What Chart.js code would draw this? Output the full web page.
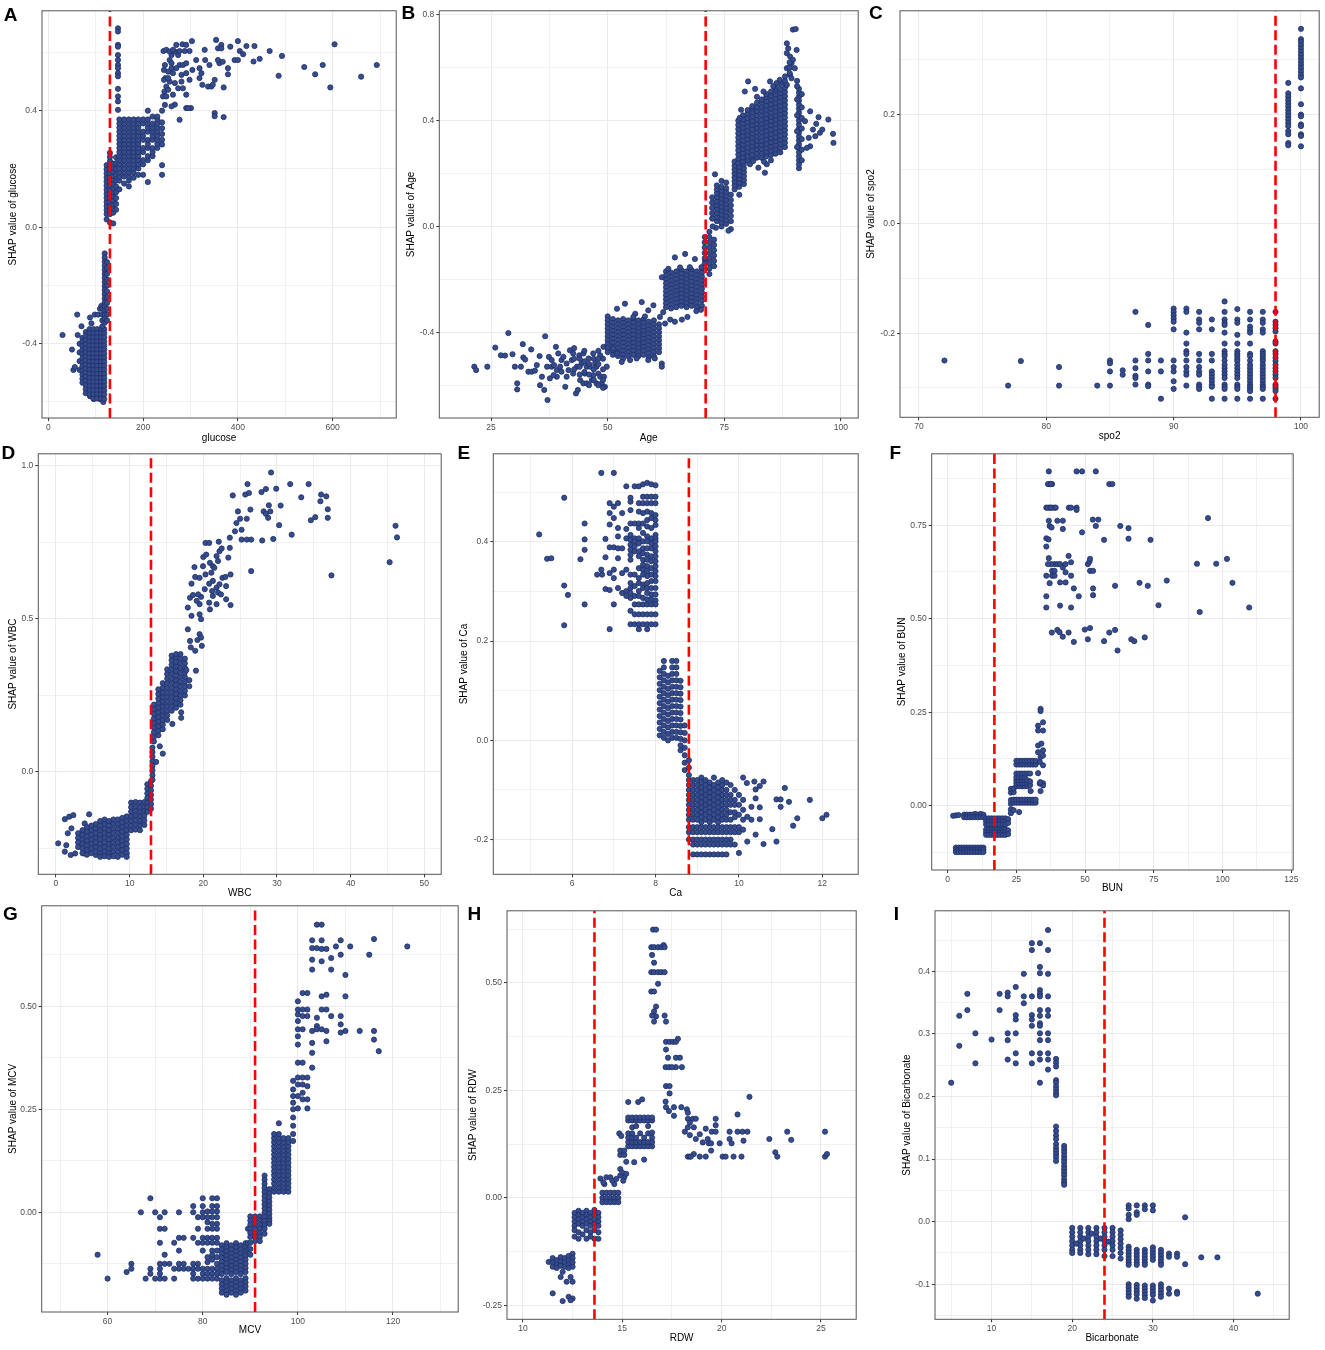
<!DOCTYPE html>
<html>
<head>
<meta charset="utf-8">
<script src="https://cdn.jsdelivr.net/npm/chart.js@4.4.1/dist/chart.umd.min.js"></script>
<style>
  body { margin: 0; background: #fff; width: 1325px; height: 1350px; position: relative; overflow: hidden; }
  .tag { position: absolute; font: bold 19px 'Liberation Sans', Arial, sans-serif; line-height: 19px; color: #000; }
</style>
</head>
<body>
<script>
// each row is [x, y, y, ...] : one feature value and the SHAP values read at it
const glucose = [
  [30,-0.37],[50,-0.42],[53,-0.49],[56,-0.48],[61,-0.3],[62,-0.37],[70,-0.34],[88,-0.31],[91,-0.33],[98,-0.3],[105,-0.3],[109,-0.28],[112,-0.27],[88,-0.58],[96,-0.59],[109,-0.59],[116,-0.6],
  [66,-0.4,-0.43,-0.46,-0.49],
  [72,-0.38,-0.394,-0.408,-0.422,-0.436,-0.45,-0.464,-0.478,-0.492,-0.506,-0.52,-0.534],
  [79,-0.36,-0.374,-0.388,-0.402,-0.416,-0.43,-0.444,-0.458,-0.472,-0.486,-0.5,-0.514,-0.528,-0.542,-0.556,-0.57],
  [87,-0.35,-0.364,-0.378,-0.392,-0.406,-0.42,-0.434,-0.448,-0.462,-0.476,-0.49,-0.504,-0.518,-0.532,-0.546,-0.56,-0.574],
  [95,-0.35,-0.364,-0.378,-0.392,-0.406,-0.42,-0.434,-0.448,-0.462,-0.476,-0.49,-0.504,-0.518,-0.532,-0.546,-0.56,-0.574,-0.588],
  [103,-0.35,-0.364,-0.378,-0.392,-0.406,-0.42,-0.434,-0.448,-0.462,-0.476,-0.49,-0.504,-0.518,-0.532,-0.546,-0.56,-0.574,-0.588],
  [111,-0.35,-0.364,-0.378,-0.392,-0.406,-0.42,-0.434,-0.448,-0.462,-0.476,-0.49,-0.504,-0.518,-0.532,-0.546,-0.56,-0.574,-0.588],
  [118,-0.35,-0.364,-0.378,-0.392,-0.406,-0.42,-0.434,-0.448,-0.462,-0.476,-0.49,-0.504,-0.518,-0.532,-0.546,-0.56,-0.574,-0.59],
  [114,-0.28,-0.3,-0.32,-0.34],
  [119,-0.09,-0.104,-0.118,-0.132,-0.146,-0.16,-0.174,-0.188,-0.202,-0.216,-0.23,-0.244,-0.258,-0.272,-0.286,-0.3,-0.314,-0.328],
  [124,-0.12,-0.14,-0.16,-0.18,-0.2,-0.22,-0.24,-0.26,-0.28,-0.3,-0.32],
  [123,0.027,0.045,0.059,0.073,0.087,0.101,0.115,0.129,0.143,0.157,0.171,0.185,0.199,0.213],
  [130,0.016,0.045,0.059,0.073,0.087,0.101,0.115,0.129,0.143,0.157,0.171,0.185,0.199,0.213,0.227,0.241,0.255],
  [137,0.013,0.05,0.064,0.078,0.092,0.106,0.12,0.134,0.148,0.162,0.176,0.19,0.204,0.218],
  [143,0.06,0.08,0.1,0.12,0.14,0.16,0.18,0.2,0.22,0.24],
  [147,0.683,0.672,0.626,0.62,0.591,0.574,0.557,0.546,0.529,0.518,0.475,0.449,0.432,0.403],
  [150,0.13,0.16,0.174,0.188,0.202,0.216,0.23,0.244,0.258,0.272,0.286,0.3,0.314,0.328,0.342,0.356,0.37],
  [160,0.15,0.174,0.188,0.202,0.216,0.23,0.244,0.258,0.272,0.286,0.3,0.314,0.328,0.342,0.356,0.37],
  [170,0.14,0.16,0.174,0.188,0.202,0.216,0.23,0.244,0.258,0.272,0.286,0.3,0.314,0.328,0.342,0.356,0.37],
  [180,0.17,0.188,0.202,0.216,0.23,0.244,0.258,0.272,0.286,0.3,0.314,0.328,0.342,0.356,0.37],
  [190,0.18,0.202,0.216,0.23,0.244,0.258,0.272,0.286,0.3,0.314,0.328,0.342,0.356,0.37],
  [200,0.18,0.216,0.23,0.258,0.272,0.3,0.314,0.328,0.356,0.37],
  [210,0.155,0.23,0.244,0.272,0.286,0.3,0.328,0.342,0.356,0.37,0.4],
  [220,0.244,0.258,0.272,0.3,0.314,0.328,0.342,0.356,0.38],
  [230,0.272,0.286,0.3,0.314,0.328,0.342,0.356,0.37,0.38],
  [240,0.18,0.213,0.284,0.3,0.32,0.34,0.36,0.4],
  [243,0.605],[246,0.557],[247,0.512],[245,0.466],[242,0.449],[246,0.42],[249,0.483],[253,0.534],[256,0.574],[260,0.563],[263,0.529],[256,0.5],[253,0.472],[249,0.449],[260,0.591],[267,0.603],[270,0.626],[274,0.591],[277,0.557],[281,0.523],[274,0.477],[263,0.455],[267,0.421],[291,0.455],[291,0.409],[277,0.369],[260,0.415],
  [244,0.54],[244,0.506],[249,0.609],[256,0.603],[263,0.609],[253,0.512],[260,0.546],[270,0.546],[267,0.495],[277,0.605],[288,0.605],
  [283,0.628],[291,0.626],[298,0.605],[303,0.639],[284,0.557],[291,0.563],[291,0.529],[281,0.5],[284,0.477],[298,0.506],[304,0.54],[312,0.574],[319,0.546],[323,0.529],[319,0.512],[325,0.489],[330,0.609],[340,0.557],[331,0.574],[337,0.483],[351,0.506],[358,0.614],[354,0.643],[361,0.563],[365,0.626],[368,0.568],[379,0.546],[379,0.525],[370,0.48],[384,0.62],[351,0.392],[351,0.381],[370,0.378],[365,0.614],[358,0.574],[344,0.483],[347,0.489],[301,0.409],[295,0.409],
  [393,0.574],[400,0.574],[400,0.639],[404,0.605],[411,0.594],[418,0.622],[435,0.622],[446,0.578],[433,0.569],[467,0.605],[493,0.588],[540,0.55],[486,0.52],[563,0.525],[579,0.557],[595,0.48],[604,0.628],[660,0.517],[693,0.557]
];

const age = [
  [21.4,-0.53],[21.8,-0.543],[24.2,-0.53],[25.9,-0.458],[27.1,-0.487],[28,-0.488],[28.7,-0.403],[29.6,-0.483],[30.1,-0.53],[30.6,-0.593,-0.616],[31.4,-0.53],[31.8,-0.445],[31.9,-0.495],[32.3,-0.503],[33,-0.549],[33.6,-0.465],[33.7,-0.549],[34.4,-0.545],[34.8,-0.524],[35.4,-0.49],[35.5,-0.6],[35.9,-0.568],[36.4,-0.618],[36.6,-0.415],[37,-0.53],[37.1,-0.656],[37.4,-0.493],[37.6,-0.574],[38,-0.505,-0.53],[38.5,-0.524],[38.9,-0.455],[39.1,-0.568,-0.543],[39.4,-0.48],[39.8,-0.53],[40.1,-0.549,-0.505],[40.5,-0.493],[40.9,-0.606],[41.2,-0.518,-0.568],[41.6,-0.543],[41.9,-0.468],[42.3,-0.505],[42.6,-0.556,-0.48],[43.2,-0.631],[43.6,-0.618],[43.9,-0.487],[44.1,-0.581],[44.4,-0.518],[44.8,-0.48,-0.593],[45.1,-0.556],[45.5,-0.593,-0.53],[45.9,-0.499],[46.2,-0.53],[46.6,-0.581],[46.9,-0.48,-0.562],[47.3,-0.518],[47.6,-0.593,-0.53],[48,-0.556],[48.4,-0.487,-0.568],[48.7,-0.593],[49.1,-0.455],[49.4,-0.606],[49.8,-0.53],[49.2,-0.568],[43.4,-0.53],[38.4,-0.562],
  [42.8,-0.46,-0.5,-0.54],[44,-0.5,-0.53,-0.56],[45,-0.47,-0.51,-0.55],[46,-0.52,-0.56,-0.6],[47,-0.5,-0.54,-0.58],[48,-0.47,-0.5,-0.52,-0.6],[49,-0.5,-0.54,-0.58,-0.61],
  [50,-0.34,-0.355,-0.37,-0.385,-0.4,-0.415,-0.43,-0.445,-0.46,-0.475],
  [51.1,-0.35,-0.365,-0.38,-0.395,-0.41,-0.425,-0.44,-0.455,-0.47,-0.485],
  [52.2,-0.355,-0.37,-0.385,-0.4,-0.415,-0.43,-0.445,-0.46,-0.475,-0.49],
  [53.3,-0.35,-0.365,-0.38,-0.395,-0.41,-0.425,-0.44,-0.455,-0.47,-0.485,-0.5],
  [54.4,-0.355,-0.37,-0.385,-0.4,-0.415,-0.43,-0.445,-0.46,-0.475,-0.49],
  [55.5,-0.35,-0.365,-0.38,-0.395,-0.41,-0.425,-0.44,-0.455,-0.47,-0.485],
  [56.6,-0.355,-0.37,-0.385,-0.4,-0.415,-0.43,-0.445,-0.46,-0.475,-0.49],
  [57.7,-0.35,-0.365,-0.38,-0.395,-0.41,-0.425,-0.44,-0.455,-0.47,-0.485],
  [58.8,-0.36,-0.375,-0.39,-0.405,-0.42,-0.435,-0.45,-0.465,-0.48,-0.495],
  [59.9,-0.355,-0.37,-0.385,-0.4,-0.415,-0.43,-0.445,-0.46,-0.475,-0.49],
  [61,-0.37,-0.385,-0.4,-0.415,-0.43,-0.445,-0.46,-0.475],
  [52,-0.311,-0.48],[53.7,-0.292],[55.9,-0.33],[57.3,-0.286],[58.7,-0.317,-0.505],[59.8,-0.298],[58,-0.34],[55.5,-0.342],[53,-0.512],[54.8,-0.505],[56.2,-0.499],[60.1,-0.499],[61.6,-0.518,-0.53],[51.2,-0.461],
  [62.5,-0.17,-0.185,-0.2,-0.215,-0.23,-0.245,-0.26,-0.275,-0.29,-0.305],
  [63.6,-0.175,-0.19,-0.205,-0.22,-0.235,-0.25,-0.265,-0.28,-0.295,-0.31],
  [64.7,-0.17,-0.185,-0.2,-0.215,-0.23,-0.245,-0.26,-0.275,-0.29,-0.305],
  [65.8,-0.165,-0.18,-0.195,-0.21,-0.225,-0.24,-0.255,-0.27,-0.285,-0.3],
  [66.9,-0.17,-0.185,-0.2,-0.215,-0.23,-0.245,-0.26,-0.275,-0.29,-0.305],
  [68,-0.165,-0.18,-0.195,-0.21,-0.225,-0.24,-0.255,-0.27,-0.285,-0.3],
  [69.1,-0.17,-0.185,-0.2,-0.215,-0.23,-0.245,-0.26,-0.275,-0.29,-0.305],
  [70.2,-0.16,-0.175,-0.19,-0.205,-0.22,-0.235,-0.25,-0.265,-0.28,-0.3],
  [64.4,-0.117,-0.36],[66.6,-0.104],[68.7,-0.123],[67.6,-0.154],[70.1,-0.154],[70.9,-0.129],[65.5,-0.155],[63,-0.16],[62.3,-0.367],[63.4,-0.352],[65.9,-0.352],[67.1,-0.342],[61.2,-0.342],[61.9,-0.324],[61.6,-0.192],[69,-0.32],[70,-0.315],
  [70.8,-0.04,-0.06,-0.08,-0.1,-0.12,-0.14],
  [71.8,-0.02,-0.04,-0.06,-0.08,-0.1,-0.12,-0.14,-0.16,-0.18],
  [72.8,-0.05,-0.07,-0.09,-0.11,-0.13,-0.15],
  [72.4,0.03,0.05,0.07,0.09,0.11],
  [73.4,0.02,0.035,0.05,0.065,0.08,0.095,0.11,0.125,0.14,0.155],
  [74.4,0,0.015,0.03,0.045,0.06,0.075,0.09,0.105,0.12,0.135,0.15,0.172],
  [75.4,0.01,0.025,0.04,0.055,0.07,0.085,0.1,0.115,0.13,0.145,0.166],
  [76.4,-0.01,0.02,0.04,0.06,0.08,0.1,0.12],
  [73,0.197],[75.9,-0.016],[73.2,-0.005],[72.5,0,0.03],
  [77.2,0.14,0.155,0.17,0.185,0.2,0.215,0.23,0.245],
  [78.2,0.12,0.15,0.165,0.18,0.195,0.21,0.225,0.24,0.255],
  [79.2,0.16,0.175,0.19,0.205,0.22,0.235,0.25],
  [78,0.24,0.256,0.272,0.288,0.304,0.32,0.336,0.352,0.368,0.384,0.4],
  [79,0.245,0.261,0.277,0.293,0.309,0.325,0.341,0.357,0.373,0.389,0.405,0.42],
  [80,0.25,0.266,0.282,0.298,0.314,0.33,0.346,0.362,0.378,0.394,0.41,0.426,0.44],
  [81,0.255,0.271,0.287,0.303,0.319,0.335,0.351,0.367,0.383,0.399,0.415,0.431,0.447,0.455],
  [82,0.26,0.276,0.292,0.308,0.324,0.34,0.356,0.372,0.388,0.404,0.42,0.436,0.452,0.468],
  [83,0.26,0.276,0.292,0.308,0.324,0.34,0.356,0.372,0.388,0.404,0.42,0.436,0.452,0.468,0.48],
  [84,0.265,0.281,0.297,0.313,0.329,0.345,0.361,0.377,0.393,0.409,0.425,0.441,0.457,0.473,0.489,0.5],
  [85,0.27,0.286,0.302,0.318,0.334,0.35,0.366,0.382,0.398,0.414,0.43,0.446,0.462,0.478,0.494,0.51],
  [86,0.275,0.291,0.307,0.323,0.339,0.355,0.371,0.387,0.403,0.419,0.435,0.451,0.467,0.483,0.499,0.515,0.525],
  [87,0.28,0.296,0.312,0.328,0.344,0.36,0.376,0.392,0.408,0.424,0.44,0.456,0.472,0.488,0.504,0.52,0.54],
  [88,0.3,0.316,0.332,0.348,0.364,0.38,0.396,0.412,0.428,0.444,0.46,0.476,0.492,0.508,0.524,0.54,0.55],
  [80.5,0.235],[82.3,0.222],[83.7,0.203],[84.1,0.235],[81.2,0.247],[80.1,0.548],[81.6,0.52],[79.4,0.51],[83.4,0.51],[84.8,0.548],[86.2,0.542],[86.9,0.554],[88,0.567],[88.4,0.535],[85.5,0.53],[82,0.49],[78.6,0.441],[78.3,0.41],[83.5,0.245],[85,0.25],
  [88.4,0.692,0.655,0.598],[88.7,0.673],[89.1,0.642,0.573],[89.4,0.617,0.56],[90.1,0.598],[89.7,0.63,0.744],[90.5,0.667],[90.3,0.746],[89,0.6,0.62,0.58],
  [91,0.22,0.235,0.25,0.265,0.28,0.295,0.31,0.325,0.34,0.355,0.37,0.385,0.4,0.415,0.43,0.445,0.46,0.475,0.49,0.505,0.52],
  [91.6,0.25,0.29,0.33,0.37,0.41,0.45,0.5],[90.6,0.3,0.36,0.42,0.48,0.53,0.55],
  [93.4,0.435,0.303],[94.7,0.388],[95.2,0.413],[94,0.366],[94.5,0.341],[95.5,0.354],[96,0.366],[92.7,0.297],[97.3,0.404],[98.3,0.35],[98.4,0.316],[92.3,0.398],[93.1,0.335]
];

const spo2 = [
  [72,-0.25],[77,-0.296],[78,-0.251],[81,-0.262,-0.296],[84,-0.296],
  [85,-0.25,-0.255,-0.27,-0.296],
  [86,-0.268,-0.276],
  [87,-0.161,-0.25,-0.264,-0.278,-0.282,-0.294],
  [88,-0.185,-0.238,-0.25,-0.27,-0.294,-0.297],
  [89,-0.25,-0.27,-0.32],
  [90,-0.155,-0.161,-0.167,-0.173,-0.179,-0.193,-0.25,-0.262,-0.27,-0.288,-0.302],
  [91,-0.155,-0.161,-0.199,-0.219,-0.233,-0.238,-0.25,-0.262,-0.27,-0.276,-0.296],
  [92,-0.161,-0.175,-0.181,-0.193,-0.238,-0.25,-0.262,-0.27,-0.276,-0.294,-0.298,-0.302],
  [93,-0.175,-0.193,-0.238,-0.25,-0.27,-0.276,-0.282,-0.288,-0.294,-0.298,-0.32],
  [94,-0.142,-0.161,-0.175,-0.181,-0.185,-0.199,-0.219,-0.233,-0.238,-0.242,-0.25,-0.258,-0.264,-0.27,-0.276,-0.282,-0.294,-0.298,-0.302,-0.32],
  [95,-0.156,-0.175,-0.181,-0.203,-0.219,-0.233,-0.238,-0.242,-0.247,-0.251,-0.258,-0.264,-0.27,-0.276,-0.282,-0.294,-0.298,-0.302,-0.32],
  [96,-0.161,-0.175,-0.188,-0.194,-0.199,-0.219,-0.238,-0.242,-0.25,-0.258,-0.264,-0.27,-0.276,-0.282,-0.288,-0.294,-0.298,-0.302,-0.306,-0.32],
  [97,-0.161,-0.175,-0.181,-0.193,-0.199,-0.233,-0.238,-0.242,-0.247,-0.251,-0.258,-0.264,-0.27,-0.276,-0.282,-0.288,-0.294,-0.298,-0.302,-0.32],
  [98,-0.161,-0.179,-0.185,-0.191,-0.197,-0.215,-0.219,-0.233,-0.238,-0.245,-0.251,-0.258,-0.264,-0.27,-0.276,-0.282,-0.294,-0.298,-0.302,-0.306,-0.32],
  [99,0.258,0.239,0.233,0.227,0.221,0.215,0.209,0.203,0.197,0.191,0.185,0.179,0.17,0.164,0.148,0.144],
  [100,0.357,0.338,0.333,0.327,0.321,0.315,0.309,0.303,0.297,0.291,0.285,0.279,0.273,0.268,0.248,0.219,0.2,0.197,0.182,0.179,0.164,0.161,0.142]
];

const wbc = [
  [0.3,-0.233],[1.2,-0.154,-0.26],[1.6,-0.2],[1.4,-0.239],[1.8,-0.146],[2,-0.271],[2.35,-0.141],[2.1,-0.184],[2.6,-0.266],[3.8,-0.266],[4.5,-0.138],[3.9,-0.168],[5.4,-0.271],
  [3,-0.2,-0.215,-0.23,-0.245],
  [3.6,-0.19,-0.205,-0.22,-0.235,-0.25,-0.265],
  [4.2,-0.18,-0.195,-0.21,-0.225,-0.24,-0.255,-0.27],
  [4.8,-0.175,-0.19,-0.205,-0.22,-0.235,-0.25,-0.265],
  [5.4,-0.17,-0.185,-0.2,-0.215,-0.23,-0.245,-0.26],
  [6,-0.16,-0.175,-0.19,-0.205,-0.22,-0.235,-0.25,-0.265,-0.277],
  [6.6,-0.155,-0.17,-0.185,-0.2,-0.215,-0.23,-0.245,-0.26,-0.275],
  [7.2,-0.16,-0.175,-0.19,-0.205,-0.22,-0.235,-0.25,-0.265,-0.277],
  [7.8,-0.155,-0.17,-0.185,-0.2,-0.215,-0.23,-0.245,-0.26,-0.275],
  [8.4,-0.155,-0.17,-0.185,-0.2,-0.215,-0.23,-0.245,-0.26,-0.277],
  [9,-0.15,-0.165,-0.18,-0.195,-0.21,-0.225,-0.24,-0.255,-0.27],
  [9.6,-0.145,-0.16,-0.175,-0.19,-0.205,-0.22,-0.235,-0.25,-0.265,-0.277],
  [10.2,-0.1,-0.115,-0.13,-0.145,-0.16,-0.175,-0.19],
  [10.8,-0.098,-0.113,-0.128,-0.143,-0.158,-0.173,-0.188],
  [11.4,-0.1,-0.115,-0.13,-0.145,-0.16,-0.175,-0.19],
  [12,-0.098,-0.113,-0.128,-0.143,-0.158,-0.173],
  [12.4,-0.04,-0.055,-0.07,-0.085,-0.1,-0.115,-0.13],
  [12.9,-0.03,-0.045,-0.06,-0.075,-0.09,-0.105,-0.12],
  [13.1,0.08,0.065,0.05,0.035,0.02,0.005,-0.01,-0.025],
  [13.3,0.1,0.115,0.13,0.145,0.16,0.175,0.19,0.205,0.22],
  [13.9,0.12,0.135,0.15,0.165,0.18,0.195,0.21,0.225,0.24,0.255,0.27],
  [14.5,0.14,0.155,0.17,0.185,0.2,0.215,0.23,0.245,0.26,0.275,0.29],
  [15.1,0.17,0.185,0.2,0.215,0.23,0.245,0.26,0.275,0.29,0.305,0.32,0.335],
  [15.7,0.2,0.215,0.23,0.245,0.26,0.275,0.29,0.305,0.32,0.335,0.35,0.365,0.38],
  [16.3,0.21,0.225,0.24,0.255,0.27,0.285,0.3,0.315,0.33,0.345,0.36,0.375,0.385],
  [16.9,0.22,0.235,0.25,0.265,0.28,0.295,0.31,0.325,0.34,0.355,0.37,0.385],
  [17.5,0.25,0.265,0.28,0.295,0.31,0.325,0.34,0.355,0.37],
  [18.1,0.28,0.3],
  [14.1,0.084],[14.5,0.06],[13.6,0.033],[15.8,0.157],[17,0.177,0.195],[19,0.331],[17.7,0.333],
  [17.9,0.466,0.537],[18.3,0.407],[18.9,0.396,0.637],[19.2,0.431],[19.5,0.45,0.548,0.515,0.634],[19.8,0.412],[19.7,0.439,0.572,0.499],[18.2,0.428,0.569],[18.4,0.51,0.615],[18.6,0.578],[19.3,0.58],[19.1,0.559],[18.8,0.669],[19.96,0.672],[20,0.702],[20.4,0.71],[20.3,0.748,0.645],[20.8,0.748,0.615,0.553],[20.9,0.683,0.531],[21.1,0.651],[21.3,0.624,0.575,0.672],[21.5,0.667],[21.8,0.705,0.602,0.548],[22.1,0.752],[22.2,0.721,0.613],[22.5,0.73],[22,0.586,0.689],[22.6,0.634],[22.4,0.58],[23,0.637],[23.1,0.607,0.564],[23.4,0.7],[23.6,0.732,0.765],[23.7,0.645,0.545],[20.2,0.597],[21.2,0.591],
  [24,0.903],[24.3,0.786],[24.5,0.813],[24.7,0.851],[25,0.827],[25.2,0.791,0.759],[25.7,0.906],[26,0.94],[26.2,0.911],[25.9,0.827,0.759],[26.4,0.857],[26.5,0.759,0.656],[27.9,0.914],[28,0.756],[28.2,0.851],[28.5,0.924,0.843],[28.8,0.83],[28.9,0.871],[29.1,0.851],[29.2,0.978],[29.5,0.761],[29.9,0.925],[30.3,0.806],[30.5,0.87],[31.8,0.94],[32,0.775],[33.3,0.897],[34.3,0.94],[34.6,0.822],[35.2,0.832],[35.9,0.884],[36,0.906],[36.7,0.9],[36.9,0.858,0.83],[37.4,0.642],[45.3,0.685],[46.1,0.804],[46.3,0.766]
];

const ca = [
  [5.21,0.415],[5.4,0.366],[5.5,0.367],[5.81,0.489,0.312,0.232],[5.9,0.293],[6.2,0.365],[6.3,0.437,0.405,0.384,0.274],[6.6,0.334],[6.7,0.539,0.344],[6.72,0.334],[6.8,0.406,0.369,0.305],
  [6.9,0.478,0.458,0.435,0.389,0.337,0.303,0.224],[7,0.539,0.471,0.448,0.389,0.344,0.327,0.274],[7.1,0.478,0.428,0.411,0.387,0.367,0.307],[7.2,0.458,0.387,0.337,0.297],[7.3,0.512,0.426,0.407,0.344,0.301,0.291],
  [7.4,0.489,0.481,0.464,0.437,0.414,0.404,0.394,0.384,0.374,0.364,0.334,0.317,0.307,0.297,0.287,0.261,0.234],
  [7.5,0.512,0.437,0.407,0.401,0.391,0.381,0.334,0.311,0.291,0.274,0.254,0.234],
  [7.6,0.512,0.478,0.461,0.437,0.428,0.407,0.397,0.381,0.371,0.347,0.327,0.317,0.301,0.291,0.274,0.254,0.234,0.224],
  [7.7,0.516,0.491,0.478,0.458,0.437,0.418,0.401,0.387,0.377,0.364,0.354,0.344,0.334,0.314,0.307,0.287,0.274,0.254,0.234],
  [7.8,0.519,0.491,0.478,0.461,0.444,0.431,0.411,0.401,0.387,0.374,0.364,0.351,0.341,0.331,0.317,0.307,0.297,0.284,0.274,0.254,0.234,0.224],
  [7.9,0.516,0.491,0.478,0.458,0.448,0.428,0.407,0.397,0.387,0.371,0.361,0.347,0.334,0.321,0.307,0.294,0.284,0.274,0.254,0.234],
  [8,0.514,0.491,0.478,0.454,0.444,0.434,0.414,0.407,0.401,0.391,0.381,0.371,0.361,0.351,0.341,0.331,0.321,0.307,0.294,0.282,0.274,0.254,0.234],
  [8.1,0.14,0.127,0.114,0.101,0.088,0.075,0.062,0.049,0.036,0.023,0.01],
  [8.2,0.16,0.147,0.134,0.121,0.108,0.095,0.082,0.069,0.056,0.043,0.03,0.017,0.005],
  [8.3,0.13,0.117,0.104,0.091,0.078,0.065,0.052,0.039,0.026,0.013,0],
  [8.4,0.16,0.147,0.134,0.121,0.108,0.095,0.082,0.069,0.056,0.043,0.03,0.017,0.005],
  [8.5,0.16,0.147,0.134,0.121,0.108,0.095,0.082,0.069,0.056,0.043,0.03,0.017,0.005],
  [8.6,0.12,0.107,0.094,0.081,0.068,0.055,0.042,0.029,0.016,0.003,-0.01,-0.02],
  [8.7,0.03,0.015,0,-0.015,-0.03,-0.045,-0.06],
  [8.8,-0.04,-0.055,-0.07,-0.08,-0.09,-0.1,-0.11,-0.12,-0.13,-0.14,-0.15,-0.16,-0.175,-0.185,-0.2],
  [8.9,-0.08,-0.09,-0.1,-0.11,-0.12,-0.13,-0.14,-0.15,-0.16,-0.175,-0.185,-0.2,-0.21,-0.23],
  [9,-0.08,-0.09,-0.1,-0.11,-0.12,-0.13,-0.14,-0.15,-0.16,-0.175,-0.185,-0.2,-0.21,-0.23],
  [9.1,-0.075,-0.085,-0.095,-0.105,-0.115,-0.125,-0.135,-0.145,-0.155,-0.165,-0.175,-0.185,-0.2,-0.21,-0.23],
  [9.2,-0.08,-0.09,-0.1,-0.11,-0.12,-0.13,-0.14,-0.15,-0.16,-0.175,-0.185,-0.2,-0.21,-0.23],
  [9.3,-0.085,-0.095,-0.105,-0.115,-0.125,-0.135,-0.145,-0.155,-0.165,-0.175,-0.185,-0.2,-0.21,-0.23],
  [9.4,-0.075,-0.09,-0.1,-0.11,-0.12,-0.13,-0.14,-0.15,-0.16,-0.175,-0.185,-0.2,-0.21,-0.23],
  [9.5,-0.085,-0.095,-0.105,-0.115,-0.125,-0.135,-0.145,-0.155,-0.165,-0.175,-0.185,-0.2,-0.21,-0.23],
  [9.6,-0.08,-0.09,-0.1,-0.11,-0.12,-0.13,-0.14,-0.15,-0.16,-0.175,-0.185,-0.2,-0.21,-0.23],
  [9.7,-0.085,-0.1,-0.11,-0.12,-0.13,-0.14,-0.15,-0.16,-0.175,-0.185,-0.2,-0.21,-0.23],
  [9.8,-0.09,-0.11,-0.12,-0.13,-0.145,-0.16,-0.175,-0.185,-0.2,-0.21],
  [9.9,-0.1,-0.12,-0.13,-0.145,-0.155,-0.175,-0.185,-0.21],
  [10,-0.11,-0.13,-0.15,-0.175,-0.185,-0.227],
  [10.1,-0.075,-0.12,-0.14,-0.16,-0.18],
  [10.19,-0.086],[10.37,-0.083],[10.4,-0.099,-0.117,-0.19],[10.5,-0.092,-0.135,-0.159],[10.59,-0.083,-0.209],[10.3,-0.134,-0.16],[10.8,-0.179],[10.9,-0.204,-0.119],[11,-0.119,-0.134],[11.1,-0.096],[11.2,-0.124],[11.3,-0.172],[11.4,-0.157],[11.7,-0.12],[12,-0.157],[12.1,-0.15],[10.2,-0.204,-0.154]
];

const bun = [
  [2,-0.027],[3,-0.026,-0.112,-0.118,-0.124],[4,-0.025,-0.112,-0.118,-0.124],[5,-0.112,-0.118,-0.124],
  [6,-0.024,-0.031,-0.112,-0.118,-0.124],[7,-0.024,-0.031,-0.112,-0.118,-0.124],[8,-0.024,-0.031,-0.112,-0.118,-0.124],[9,-0.024,-0.031,-0.112,-0.118,-0.124],
  [10,-0.022,-0.03,-0.112,-0.118,-0.124],[11,-0.024,-0.031,-0.112,-0.118,-0.124],[12,-0.022,-0.03,-0.112,-0.118,-0.124],[13,-0.024,-0.031,-0.112,-0.118,-0.124],
  [14,-0.034,-0.042,-0.05,-0.064,-0.071,-0.078],[15,-0.034,-0.042,-0.05,-0.064,-0.071,-0.078],[16,-0.034,-0.042,-0.05,-0.064,-0.071,-0.078],[17,-0.034,-0.042,-0.05,-0.064,-0.071,-0.078],
  [18,-0.034,-0.042,-0.05,-0.064,-0.071,-0.078],[19,-0.034,-0.042,-0.05,-0.064,-0.071,-0.078],[20,-0.034,-0.042,-0.05,-0.064,-0.071,-0.078],[21,-0.034,-0.042,-0.05,-0.064,-0.071,-0.078],[22,-0.036,-0.046,-0.066,-0.076],
  [23,-0.01,-0.02,0.035,0.045,0.005,0.015],[24,-0.012,0.036,0.046,0.008,0.016],
  [25,0.008,0.016,0.052,0.06,0.068,0.076,0.086,0.11,0.12],[26,0.008,0.016,0.052,0.06,0.068,0.076,0.086,0.11,0.12,-0.017],[27,0.008,0.016,0.052,0.06,0.068,0.076,0.086,0.11,0.12],
  [28,0.008,0.016,0.052,0.06,0.068,0.076,0.086,0.11,0.12],[29,0.008,0.016,0.052,0.06,0.068,0.086,0.11,0.12],[30,0.008,0.016,0.055,0.065,0.086,0.11,0.12],
  [31,0.008,0.016,0.11,0.12],[32,0.008,0.016,0.11,0.12],[30.2,0.039],
  [33.8,0.259,0.253,0.13,0.039],[32.9,0.214,0.201,0.161,0.143,0.087],[34.7,0.223,0.201,0.148,0.134,0.108,0.06,0.054],[34.1,0.166],[33.5,0.117,0.059],[33.7,0.063],
  [35.9,0.53,0.56,0.615,0.693,0.715,0.797],[36.7,0.712],[36.8,0.894,0.762,0.662],[37.1,0.86,0.797,0.748,0.595],[37.8,0.744],[38,0.86,0.797,0.615,0.628],[37.9,0.463],[38.9,0.797,0.615,0.628,0.646],[37.7,0.646],[36.5,0.797,0.86,0.646],[37.5,0.797,0.86],[39.3,0.797],
  [39.9,0.646,0.762,0.47],[40.7,0.464],[40.9,0.646,0.597,0.535],[41.9,0.762,0.74,0.637,0.452],[42.9,0.597,0.646,0.624],[44,0.668,0.463],[44.1,0.797],[44.9,0.797,0.651,0.53,0.615],[45.9,0.581,0.438],[46.9,0.894,0.797,0.791],[47.7,0.56],[48.9,0.894,0.731],[49.9,0.471],
  [51,0.646,0.445],[51.6,0.653],[51.8,0.66,0.628,0.475],[52.8,0.765],[52.9,0.628,0.581,0.563],[53.9,0.894,0.748],[54.8,0.765],[56.9,0.711,0.44],[58.8,0.463,0.86],[59.9,0.86],[60.9,0.47,0.588],[61.8,0.415],[62.8,0.748],[65.8,0.742,0.714],[66.8,0.445],[67.9,0.44],
  [69.8,0.596],[71.7,0.45],[72.8,0.588],[73.8,0.711],[76.7,0.536],[79.7,0.602],[90.7,0.647],[91.7,0.518],[94.7,0.769],[97.7,0.647],[101.6,0.66],[103.6,0.596],[109.7,0.53]
];

const mcv = [
  [57.9,-0.103],[60,-0.161],[64,-0.145],[65,-0.125,-0.137],[67,0],[68,-0.161],[69,0.034,-0.137,-0.149],[70,0,-0.161],[71,-0.012,-0.04,-0.074,-0.125,-0.137,-0.149,-0.161],[72,0,-0.04,-0.103,-0.125,-0.161],[73,-0.125],[74,-0.074,-0.137,-0.161],[75,0,-0.062,-0.093,-0.125,-0.137],[76,-0.062,-0.125,-0.137],[77,-0.137],[78,0.015,0,-0.062,-0.125,-0.137,-0.149,-0.161],
  [79,-0.012,-0.04,-0.074,-0.125,-0.137,-0.161],
  [80,0.034,0.015,0,-0.012,-0.062,-0.074,-0.093,-0.137,-0.149,-0.161],
  [81,0.002,-0.012,-0.024,-0.04,-0.062,-0.074,-0.109,-0.121,-0.137,-0.149,-0.161],
  [82,0.034,0.015,0.002,-0.012,-0.028,-0.04,-0.062,-0.074,-0.093,-0.103,-0.115,-0.137,-0.149,-0.161],
  [83,0.034,0.015,0.002,-0.012,-0.028,-0.04,-0.062,-0.074,-0.093,-0.109,-0.125,-0.137,-0.149,-0.161],
  [84,-0.08,-0.09,-0.1,-0.11,-0.12,-0.13,-0.14,-0.15,-0.165,-0.175,-0.185,-0.195],
  [85,-0.075,-0.085,-0.095,-0.105,-0.115,-0.125,-0.135,-0.145,-0.16,-0.17,-0.18,-0.19,-0.2],
  [86,-0.08,-0.09,-0.1,-0.11,-0.12,-0.13,-0.14,-0.15,-0.165,-0.175,-0.185,-0.195],
  [87,-0.075,-0.085,-0.095,-0.105,-0.115,-0.125,-0.135,-0.145,-0.16,-0.17,-0.18,-0.19,-0.2],
  [88,-0.08,-0.09,-0.1,-0.11,-0.12,-0.13,-0.14,-0.15,-0.165,-0.175,-0.185,-0.195],
  [89,-0.075,-0.085,-0.095,-0.105,-0.115,-0.125,-0.135,-0.145,-0.16,-0.17,-0.18,-0.19],
  [89.5,-0.04,-0.075,-0.09],
  [90,-0.01,-0.02,-0.03,-0.04,-0.05,-0.06,-0.074,-0.089,-0.103],
  [91,-0.01,-0.02,-0.03,-0.04,-0.05,-0.06,-0.07],
  [92,-0.01,-0.02,-0.03,-0.04,-0.05,-0.06,-0.07],
  [93,0.089,0.079,0.069,0.059,0.049,0.039,0.029,0.019,0.009,-0.001,-0.011,-0.021,-0.031,-0.04,-0.052],
  [94,0.056,0.046,0.036,0.026,0.016,0.006,-0.004,-0.014,-0.02,-0.028],
  [95,0.05,0.06,0.07,0.08,0.09,0.1,0.11,0.12,0.13,0.14,0.15,0.16,0.17,0.18,0.19],
  [96,0.05,0.06,0.07,0.08,0.09,0.1,0.11,0.12,0.13,0.14,0.15,0.16,0.17,0.18,0.19,0.216],
  [97,0.05,0.06,0.07,0.08,0.09,0.1,0.11,0.12,0.13,0.14,0.15,0.16,0.17,0.18],
  [98,0.05,0.06,0.07,0.08,0.09,0.1,0.11,0.12,0.13,0.14,0.15,0.16,0.17,0.18],
  [99,0.319,0.298,0.282,0.266,0.25,0.23,0.21,0.19,0.173],
  [100,0.512,0.492,0.48,0.464,0.444,0.427,0.407,0.363,0.327,0.31,0.282,0.252],
  [101,0.532,0.492,0.476,0.444,0.363,0.327,0.31,0.29,0.274],
  [102,0.532,0.492,0.476,0.327,0.306,0.274,0.252],
  [103,0.66,0.641,0.613,0.589,0.44,0.411,0.387,0.351],
  [104,0.698,0.641,0.472,0.452,0.444],
  [105,0.698,0.66,0.639,0.609,0.524,0.492,0.444],
  [106,0.639,0.528,0.492,0.44,0.415],
  [107,0.617,0.589,0.476],[108,0.645],[109,0.66,0.625,0.476,0.456,0.436],[110,0.576,0.524,0.44],[111,0.645],[113,0.44],[115,0.625],[116,0.663,0.44,0.419],[117,0.391],[123,0.645]
];

const rdw = [
  [11.3,-0.149],[11.5,-0.14,-0.15,-0.16,-0.222],[11.7,-0.145,-0.155,-0.163],[11.9,-0.138,-0.148,-0.158,-0.184],[12.1,-0.14,-0.15,-0.16],[12.3,-0.135,-0.145,-0.155,-0.163,-0.23],[12.5,-0.13,-0.14,-0.15,-0.16,-0.195,-0.234],
  [12,-0.172,-0.24],[12.2,-0.195],[12.4,-0.184,-0.238],
  [12.6,-0.035,-0.045,-0.055,-0.065,-0.075,-0.09],[12.8,-0.03,-0.04,-0.05,-0.06,-0.08,-0.095],[13,-0.035,-0.045,-0.055,-0.065,-0.085],[13.2,-0.03,-0.04,-0.05,-0.06,-0.075,-0.095],
  [13.4,-0.035,-0.045,-0.055,-0.065,-0.08,-0.09],[13.6,-0.028,-0.04,-0.05,-0.06,-0.075,-0.095],[13.8,-0.035,-0.045,-0.055,-0.065,-0.08,-0.095],
  [14,0.012,0,-0.01],[14.2,0.012,0,-0.01,0.048],[14.4,0.012,0,-0.01,0.048],[14.6,0.012,0,-0.01,0.032],[14.8,0.012,0,-0.01],
  [13.9,0.045],[14.1,0.032],[14.5,0.04],[14.9,0.052,0.067,0.1,0.11],[15,0.059],[15.1,0.048,0.1,0.11],[15.2,0.056,0.084],[15.05,0.04],[14.7,0.044],[14.05,0.036],
  [14.85,0.15],[14.95,0.144],[15.6,0.083],[16.1,0.089],
  [15.3,0.12,0.13,0.14,0.15,0.18,0.187,0.223],[15.5,0.12,0.13,0.14,0.15,0.164,0.18,0.187],[15.7,0.12,0.13,0.14,0.167,0.18,0.187],[15.9,0.12,0.13,0.15,0.18,0.187],[16.1,0.12,0.13,0.14,0.18,0.187],[16.3,0.12,0.13,0.15,0.167,0.18,0.187],[16.5,0.12,0.13,0.14,0.152,0.18,0.187],
  [15.8,0.223],[16,0.229],
  [16.55,0.624],[16.7,0.624,0.445,0.422],[16.46,0.583,0.525,0.48],[16.6,0.583,0.547,0.525,0.48,0.434,0.41],[16.8,0.583,0.525,0.498],[16.96,0.583,0.525],[17.08,0.588],[17.13,0.583,0.525,0.424],[16.5,0.565,0.424],[17.2,0.41,0.363,0.345,0.26,0.211],
  [17.38,0.363,0.26,0.243],[17.55,0.363],[17.7,0.363,0.326,0.304],[17.8,0.37],[17.3,0.326],[17.9,0.326],[17.18,0.304,0.224],[17.35,0.304,0.202],[17.5,0.304],[18,0.304],[17.6,0.191,0.211],[17.97,0.211],[18.25,0.206],[18.3,0.198,0.184,0.164,0.096],
  [18.4,0.175,0.146,0.096],[18.55,0.184],[18.7,0.184,0.137],[18.15,0.154],[18.6,0.164,0.102],[18.9,0.148,0.096],[18.45,0.096],[19.2,0.161,0.096],[19.3,0.137],[19.05,0.129],[19.35,0.127],[19.47,0.127,0.11],[19.5,0.154],[19.7,0.169,0.184,0.154],[19.9,0.127],
  [20.05,0.096],[20.2,0.096],[20.4,0.154,0.137],[20.5,0.127],[20.6,0.096],[20.8,0.194,0.154],[21,0.096],[21.05,0.154],[21.1,0.133],[21.3,0.154],[21.4,0.235],[22.4,0.137],[22.7,0.106],[22.8,0.096],[23.3,0.154],[23.5,0.135],[25.2,0.154,0.096],[25.3,0.102]
];

const bicarbonate = [
  [5,0.222],[6,0.329,0.281],[7,0.364,0.338],[8,0.301,0.253],[10,0.291],[11,0.364,0.338],[12,0.366,0.36,0.301,0.29,0.259],[13,0.375,0.33,0.323,0.301,0.269,0.253],[14,0.396,0.36,0.349],
  [15,0.445,0.434,0.36,0.33,0.323,0.313,0.269,0.253],
  [16,0.445,0.407,0.397,0.37,0.364,0.36,0.338,0.329,0.317,0.313,0.301,0.29,0.269,0.259,0.222],
  [17,0.466,0.434,0.396,0.36,0.338,0.329,0.301,0.29,0.269,0.259,0.243],
  [18,0.26,0.254,0.248,0.226,0.222,0.216,0.211,0.206,0.202,0.152,0.145,0.138,0.132,0.124,0.118,0.113,0.108,0.103,0.097],
  [19,0.121,0.116,0.111,0.105,0.1,0.095,0.089,0.084,0.079,0.074,0.068,0.063,0.059],
  [20,-0.01,-0.017,-0.024,-0.031,-0.038,-0.045,-0.05],
  [21,-0.01,-0.017,-0.024,-0.031,-0.038,-0.045,-0.05],
  [22,-0.01,-0.017,-0.024,-0.031,-0.038,-0.045,-0.052],
  [23,-0.01,-0.017,-0.024,-0.031,-0.038,-0.045,-0.052],
  [24,-0.01,-0.017,-0.024,-0.031,-0.038,-0.045,-0.055],
  [25,-0.01,-0.017,-0.024,-0.031,-0.038,-0.045,-0.055],
  [26,-0.014,-0.021,-0.028,-0.035,-0.042,-0.05,-0.059],
  [20.5,-0.035],[21.4,-0.027],[22.4,-0.019],[23.5,-0.027],[24.5,-0.032],
  [27,0.026,0.021,0.011,0.004,-0.04,-0.045,-0.05,-0.055,-0.06,-0.065,-0.069,-0.1,-0.105,-0.11,-0.115,-0.12],
  [28,0.026,0.015,0.011,-0.045,-0.05,-0.055,-0.06,-0.065,-0.069,-0.101,-0.106,-0.111,-0.116,-0.123],
  [29,0.026,0.02,-0.045,-0.05,-0.055,-0.06,-0.065,-0.069,-0.102,-0.107,-0.112,-0.117,-0.122],
  [30,0.026,0.018,-0.041,-0.046,-0.051,-0.056,-0.061,-0.102,-0.107,-0.112,-0.117,-0.126],
  [31,-0.045,-0.05,-0.055,-0.06,-0.065,-0.069,-0.1,-0.105,-0.11,-0.115,-0.12],
  [32,-0.051,-0.056,-0.107,-0.115],[33,-0.051,-0.056,-0.112,-0.115],[34,0.007,-0.068],[36,-0.057],[38,-0.057],[43,-0.115]
];

// red dashed cut-off for each panel A..I
const cutoffs = [130, 71, 98, 12.9, 8.8, 17, 91, 13.6, 24];

// major tick values
const glucoseXTicks = [0, 200, 400, 600], glucoseYTicks = [-0.4, 0, 0.4];
const ageXTicks = [25, 50, 75, 100], ageYTicks = [-0.4, 0, 0.4, 0.8];
const spo2XTicks = [70, 80, 90, 100], spo2YTicks = [-0.2, 0, 0.2];
const wbcXTicks = [0, 10, 20, 30, 40, 50], wbcYTicks = [0, 0.5, 1];
const caXTicks = [6, 8, 10, 12], caYTicks = [-0.2, 0, 0.2, 0.4];
const bunXTicks = [0, 25, 50, 75, 100, 125], bunYTicks = [0, 0.25, 0.5, 0.75];
const mcvXTicks = [60, 80, 100, 120], mcvYTicks = [0, 0.25, 0.5];
const rdwXTicks = [10, 15, 20, 25], rdwYTicks = [-0.25, 0, 0.25, 0.5];
const bicarbonateXTicks = [10, 20, 30, 40], bicarbonateYTicks = [-0.1, 0, 0.1, 0.2, 0.3, 0.4];

const panels = [
  { tag: 'A', rows: glucose, xt: glucoseXTicks, yt: glucoseYTicks, name: 'glucose', dec: 1, xr: [-13.3, 734], yr: [-0.655, 0.743], box: [42, 397, 9, 418], ytx: 13.3, xty: 437.7, at: [3.8, 4.5] },
  { tag: 'B', rows: age, xt: ageXTicks, yt: ageYTicks, name: 'Age', dec: 1, xr: [13.9, 103.7], yr: [-0.724, 0.815], box: [439.3, 859, 9.3, 418], ytx: 411, xty: 437.7, at: [401.6, 2.5] },
  { tag: 'C', rows: spo2, xt: spo2XTicks, yt: spo2YTicks, name: 'spo2', dec: 1, xr: [68.51, 101.43], yr: [-0.354, 0.39], box: [900, 1320, 9.3, 417.3], ytx: 871, xty: 436, at: [869, 2.5] },
  { tag: 'D', rows: wbc, xt: wbcXTicks, yt: wbcYTicks, name: 'WBC', dec: 1, xr: [-2.4, 52.3], yr: [-0.334, 1.039], box: [38.3, 442, 452.3, 874.3], ytx: 13.3, xty: 893.3, at: [1.5, 442.5] },
  { tag: 'E', rows: ca, xt: caXTicks, yt: caYTicks, name: 'Ca', dec: 1, xr: [4.11, 12.86], yr: [-0.27, 0.5775], box: [493.3, 859.3, 452.3, 874.3], ytx: 464, xty: 893.3, at: [457.5, 442.5] },
  { tag: 'F', rows: bun, xt: bunXTicks, yt: bunYTicks, name: 'BUN', dec: 2, xr: [-5.8, 125.7], yr: [-0.172, 0.941], box: [931.7, 1294, 452.3, 870], ytx: 902, xty: 888.3, at: [889.5, 442.5] },
  { tag: 'G', rows: mcv, xt: mcvXTicks, yt: mcvYTicks, name: 'MCV', dec: 2, xr: [46.15, 133.7], yr: [-0.242, 0.7437], box: [41.7, 459.3, 904.3, 1312], ytx: 13.3, xty: 1330, at: [3, 904] },
  { tag: 'H', rows: rdw, xt: rdwXTicks, yt: rdwYTicks, name: 'RDW', dec: 2, xr: [9.2, 26.77], yr: [-0.2824, 0.6677], box: [507, 857.3, 909.3, 1319.3], ytx: 473, xty: 1337.7, at: [467.5, 904] },
  { tag: 'I', rows: bicarbonate, xt: bicarbonateXTicks, yt: bicarbonateYTicks, name: 'Bicarbonate', dec: 1, xr: [2.99, 46.9], yr: [-0.156, 0.4967], box: [935, 1290, 909.3, 1319.3], ytx: 907, xty: 1337.7, at: [893.7, 904] }
];

Chart.defaults.font.family = "'Liberation Sans', Arial, Helvetica, sans-serif";

// grey panel border like theme_bw
const frame = {
  id: 'frame',
  afterDraw(chart) {
    const a = chart.chartArea, g = chart.ctx;
    g.save();
    g.strokeStyle = '#555';
    g.lineWidth = 1;
    g.strokeRect(a.left, a.top, a.right - a.left, a.bottom - a.top);
    g.restore();
  }
};

function toPoints(rows) {
  const out = [];
  rows.forEach(r => { for (let i = 1; i < r.length; i++) out.push({ x: r[0], y: r[i] }); });
  return out;
}

// major ticks plus minor half-step grid lines (ggplot style)
function gridTicks(major, lo, hi) {
  const step = major[1] - major[0], out = [];
  for (let k = 0; ; k++) {
    const v = +(major[0] - step + k * step / 2).toFixed(6);
    if (v > hi) break;
    if (v < lo) continue;
    out.push({ value: v, minor: k % 2 === 1 });
  }
  return out;
}

function axis(major, range, title, fmt, isX, size) {
  return {
    type: 'linear', min: range[0], max: range[1],
    afterBuildTicks: s => { s.ticks = gridTicks(major, range[0], range[1]); },
    afterFit: s => {
      if (isX) { s.height = size; s.paddingLeft = 0; s.paddingRight = 0; }
      else { s.width = size; s.paddingTop = 0; s.paddingBottom = 0; }
    },
    border: { display: false },
    grid: {
      color: '#ebebeb',
      lineWidth: c => (c.tick && c.tick.minor) ? 0.7 : 1.1,
      tickColor: c => (c.tick && c.tick.minor) ? 'rgba(0,0,0,0)' : '#333',
      tickLength: 3, tickWidth: 1
    },
    ticks: {
      autoSkip: false, maxRotation: 0, padding: isX ? 1.5 : 2, color: '#4d4d4d', font: { size: 8.5 },
      callback: (v, i, t) => t[i].minor ? '' : fmt(v)
    },
    title: { display: true, text: title, color: '#000', font: { size: 10 }, padding: 0 }
  };
}

panels.forEach((p, n) => {
  const [L, R, T, B] = p.box;
  const cl = Math.round(p.ytx - 6), ct = Math.round(T - 3), cr = Math.round(R + 4), cb = Math.round(p.xty + 6);
  const wrap = document.createElement('div');
  wrap.style.cssText = `position:absolute;left:${cl}px;top:${ct}px;width:${cr - cl}px;height:${cb - ct}px`;
  const cv = document.createElement('canvas');
  wrap.appendChild(cv);
  document.body.appendChild(wrap);

  const tag = document.createElement('div');
  tag.className = 'tag';
  tag.textContent = p.tag;
  tag.style.left = p.at[0] + 'px';
  tag.style.top = p.at[1] + 'px';
  document.body.appendChild(tag);

  new Chart(cv, {
    type: 'scatter',
    data: {
      datasets: [
        {
          data: [{ x: cutoffs[n], y: p.yr[0] }, { x: cutoffs[n], y: p.yr[1] }],
          showLine: true, borderColor: '#ff0000', borderWidth: 2.6, borderDash: [10, 4.5],
          pointRadius: 0, order: 0
        },
        {
          data: toPoints(p.rows),
          pointRadius: 2.6, pointBackgroundColor: '#364d8c', pointBorderColor: '#1e2d6a', pointBorderWidth: 0.8,
          order: 1
        }
      ]
    },
    options: {
      responsive: true, maintainAspectRatio: false, animation: false, events: [],
      layout: { padding: { left: 0, right: cr - R, top: T - ct, bottom: 0 } },
      plugins: { legend: { display: false }, tooltip: { enabled: false } },
      scales: {
        x: axis(p.xt, p.xr, p.name, v => String(v), true, cb - B),
        y: axis(p.yt, p.yr, 'SHAP value of ' + p.name, v => v.toFixed(p.dec), false, L - cl)
      }
    },
    plugins: [frame]
  });
});
</script>
</body>
</html>
